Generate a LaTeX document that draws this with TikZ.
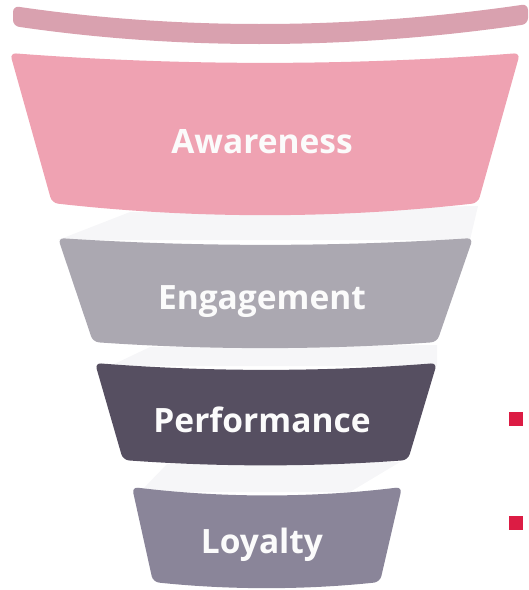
\documentclass[tikz,border=0pt]{standalone}
\usepackage{fontspec}
\setsansfont{Open Sans}
\usetikzlibrary{positioning}
\definecolor{perem}{HTML}{D9A1AF}
\definecolor{aware}{HTML}{EFA2B2}
\definecolor{engage}{HTML}{ABA8B1}
\definecolor{perform}{HTML}{564F61}
\definecolor{loyal}{HTML}{8A8599}
\definecolor{piros}{HTML}{DC1C44}
\definecolor{arny}{HTML}{F6F6F8}
\tikzset{
  lap/.style={rounded corners=6pt},
  felirat/.style={font=\sffamily\bfseries\fontsize{33.5}{38}\selectfont,
    text=white!97!gray,anchor=base,inner sep=0pt},
  szalag/.style={fill=arny},
  pottyos/.style={fill=piros,minimum size=14pt,inner sep=0pt,anchor=north west},
}
\begin{document}
\begin{tikzpicture}[x=1pt,y=-1pt]
  \useasboundingbox (0,0) rectangle (529,590);
  \clip (0,0) rectangle (529,590);
  % light ribbons behind the funnel
  \fill[szalag] (130,212) -- (478,206) -- (470,240) -- (58,240) -- cycle;
  \fill[szalag] (150,347) -- (437,345) -- (437,366) -- (110,366) -- cycle;
  \fill[szalag] (167,464) -- (400,462) -- (350,492) -- (140,492) -- cycle;
  % rim
  \fill[perem,lap] (13,6) .. controls +(172,25) and +(-172,25) .. (528,4)
    -- (528,24) .. controls +(-172,25) and +(172,25) .. (13,26) -- cycle;
  % funnel bands
  \fill[aware,lap] (10,53) .. controls +(170,13) and +(-170,13) .. (520,53)
    -- (478,203) .. controls +(-142,16) and +(142,16) .. (52,203) -- cycle;
  \fill[engage,lap] (58,238) .. controls +(138,9) and +(-138,9) .. (473,238)
    -- (437,342) .. controls +(-115,8) and +(115,8) .. (93,342) -- cycle;
  \fill[perform,lap] (95,363) .. controls +(114,9) and +(-114,9) .. (437,363)
    -- (408,460) .. controls +(-95,7) and +(95,7) .. (123,460) -- cycle;
  \fill[loyal,lap] (132,487) .. controls +(90,11) and +(-90,11) .. (402,487)
    -- (380,582) .. controls +(-76,8) and +(76,8) .. (153,582) -- cycle;
  % labels
  \node[felirat] (awareness) at (262,153) {Awareness};
  \node[felirat] (engagement) at (262,309) {Engagement};
  \node[felirat] (performance) at (262,432) {Performance};
  \node[felirat] (loyalty) at (262,553) {Loyalty};
  % red markers
  \node[pottyos] (pont1) at (509,412) {};
  \node[pottyos] (pont2) at (509,516) {};
\end{tikzpicture}
\end{document}
